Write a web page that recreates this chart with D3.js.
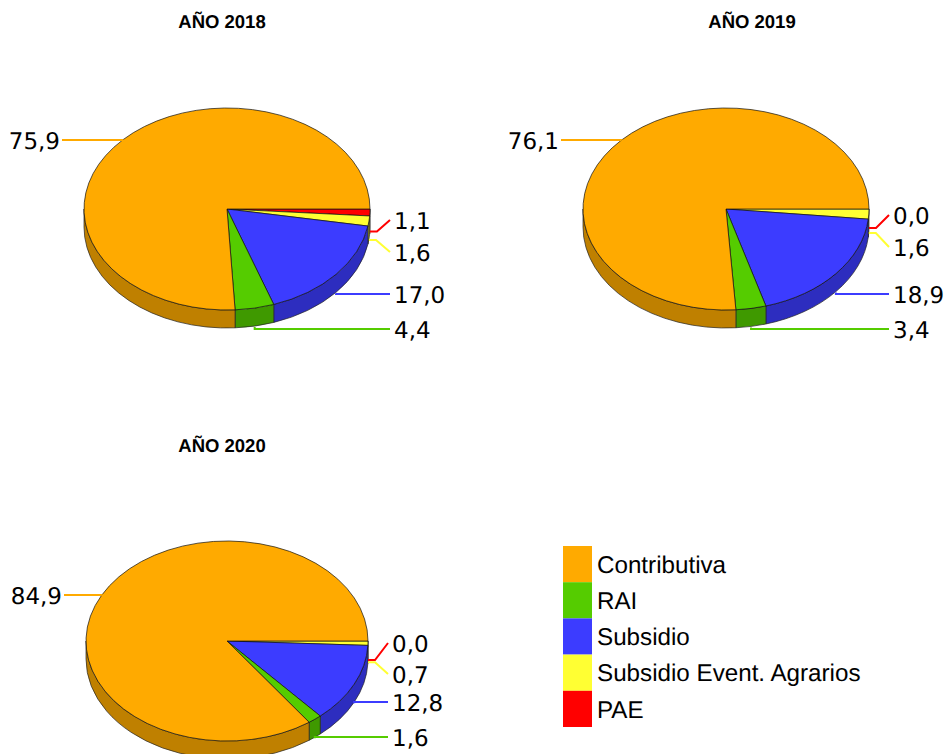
<!DOCTYPE html>
<html>
<head>
<meta charset="utf-8">
<script src="https://cdn.jsdelivr.net/npm/d3@7"></script>
<style>
  html, body { margin: 0; padding: 0; background: #fff; overflow: hidden; }
  text { text-rendering: geometricPrecision; }
</style>
</head>
<body>
<div id="chart"></div>
<script>
// Data. Order follows the legend.
const categories = ["Contributiva", "RAI", "Subsidio", "Subsidio Event. Agrarios", "PAE"];
const colors = ["#ffaa00", "#55cc00", "#3c3cff", "#ffff33", "#ff0000"];
const sideColors = ["#bf8000", "#3f9900", "#2d2dbf", "#bfbf26", "#bf0000"];
const values2018 = [75.9, 4.4, 17.0, 1.6, 1.1];
const values2019 = [76.1, 3.4, 18.9, 1.6, 0.0];
const values2020 = [84.9, 1.6, 12.8, 0.7, 0.0];

const W = 946, H = 754;
const depth = 18;

// Layout of each pie: labelY is the y of each label, same order as categories
const charts = [
    {title: "AÑO 2018", values: values2018, cx: 227, cy: 209, rx: 143, ry: 101, titleX: 222, titleY: 28,
     leftX: 62, rightX: 390, labelY: [140, 329, 294, 252, 220]},
    {title: "AÑO 2019", values: values2019, cx: 726, cy: 209, rx: 143, ry: 101, titleX: 752, titleY: 28,
     leftX: 561, rightX: 889, labelY: [140, 329, 294, 247, 215]},
    {title: "AÑO 2020", values: values2020, cx: 227, cy: 641, rx: 141, ry: 100, titleX: 222, titleY: 452,
     leftX: 64, rightX: 388, labelY: [595, 737, 702, 674, 643]}
];

const comma = d3.formatLocale({decimal: ",", thousands: ".", grouping: [3], currency: ["", ""]}).format(".1f");

const svg = d3.select("#chart").append("svg")
    .attr("width", W).attr("height", H)
    .style("display", "block");

// Slices run clockwise from east, PAE first
const pie = d3.pie()
    .sort(null)
    .value(d => d.value)
    .startAngle(Math.PI / 2)
    .endAngle(Math.PI / 2 + 2 * Math.PI);

function drawPie(c) {
    const g = svg.append("g").attr("transform", `translate(${c.cx},${c.cy})`);
    const rows = c.values.map((value, i) => ({value, i})).reverse();
    const arcs = pie(rows);
    const px = a => c.rx * Math.sin(a);
    const py = a => -c.ry * Math.cos(a);

    // side wall, only the front half is visible
    const sidePath = d => {
        const a0 = Math.max(d.startAngle, Math.PI / 2);
        const a1 = Math.min(d.endAngle, 3 * Math.PI / 2);
        return `M${px(a0)},${py(a0)}A${c.rx},${c.ry} 0 0 1 ${px(a1)},${py(a1)}` +
            `L${px(a1)},${py(a1) + depth}A${c.rx},${c.ry} 0 0 0 ${px(a0)},${py(a0) + depth}Z`;
    };
    g.selectAll("path.side")
        .data(arcs.filter(d => d.startAngle < 3 * Math.PI / 2 && d.value > 0))
        .join("path")
        .attr("class", "side")
        .attr("d", sidePath)
        .attr("fill", d => sideColors[d.data.i])
        .attr("stroke", "#222")
        .attr("stroke-width", 0.7);

    // top face: circular d3.arc squashed to an ellipse
    const arc = d3.arc().innerRadius(0).outerRadius(c.rx);
    g.append("g")
        .attr("transform", `scale(1,${c.ry / c.rx})`)
        .selectAll("path.top")
        .data(arcs)
        .join("path")
        .attr("class", "top")
        .attr("d", arc)
        .attr("fill", d => colors[d.data.i])
        .attr("stroke", "#111")
        .attr("stroke-width", 0.7)
        .attr("vector-effect", "non-scaling-stroke");

    // leader lines and value labels
    const line = d3.line();
    arcs.forEach(d => {
        const mid = (d.startAngle + d.endAngle) / 2;
        const ax = px(mid) + c.cx;
        const front = mid >= Math.PI / 2 && mid < 3 * Math.PI / 2;
        const ay = py(mid) + c.cy + (front ? depth + 1 : 0);
        const ly = c.labelY[d.data.i];
        const left = ax < c.cx;
        const lx = left ? c.leftX : c.rightX;
        const small = d.data.i >= 3;
        const pts = small
            ? [[ax, ay], [ax + 7, ay], [lx, ly]]
            : [[ax, ay], [ax, ly], [lx, ly]];
        svg.append("path")
            .attr("d", line(pts))
            .attr("fill", "none")
            .attr("stroke", colors[d.data.i])
            .attr("stroke-width", 2);
        svg.append("text")
            .attr("x", left ? lx - 2 : lx + 4)
            .attr("y", ly)
            .attr("dy", "0.38em")
            .attr("text-anchor", left ? "end" : "start")
            .style("font-family", "'DejaVu Sans'")
            .style("font-size", "23px")
            .style("fill", "#000")
            .text(comma(d.value));
    });

    svg.append("text")
        .attr("x", c.titleX).attr("y", c.titleY)
        .attr("text-anchor", "middle")
        .style("font-family", "'Liberation Sans'")
        .style("font-weight", 700)
        .style("font-size", "18.5px")
        .text(c.title);
}

charts.forEach(drawPie);

// Legend
const legendY = d3.scaleBand().domain(categories).range([546, 727]);
const legend = svg.append("g");
legend.selectAll("rect")
    .data(categories)
    .join("rect")
    .attr("x", 563)
    .attr("y", d => legendY(d))
    .attr("width", 29)
    .attr("height", legendY.bandwidth())
    .attr("fill", (d, i) => colors[i]);
legend.selectAll("text")
    .data(categories)
    .join("text")
    .attr("x", 597)
    .attr("y", d => legendY(d) + legendY.bandwidth() / 2)
    .attr("dy", "0.36em")
    .style("font-family", "'Liberation Sans'")
    .style("font-size", "24.2px")
    .text(d => d);
</script>
</body>
</html>
